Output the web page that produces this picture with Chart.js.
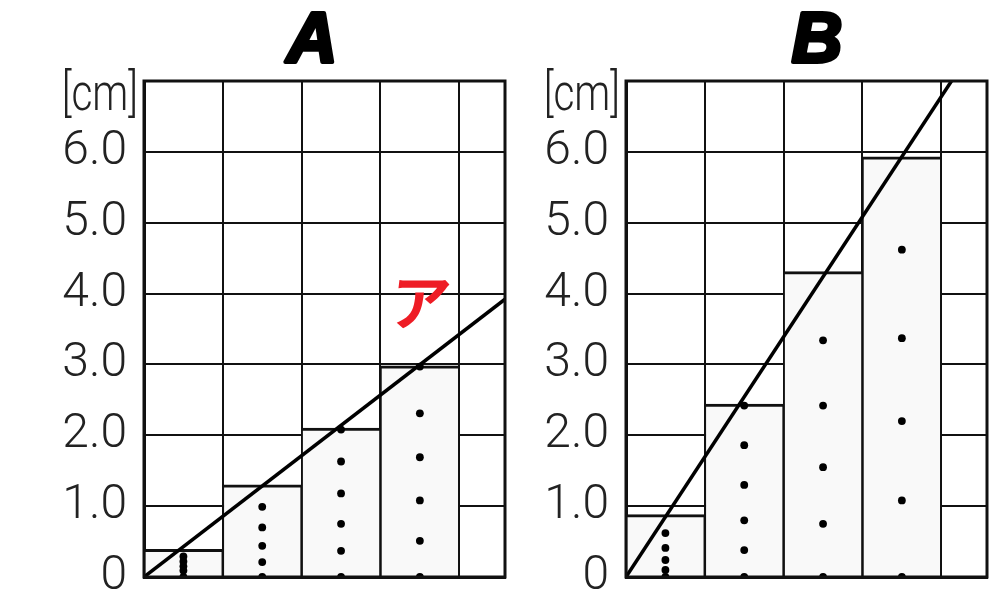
<!DOCTYPE html>
<html>
<head>
<meta charset="utf-8">
<script src="https://cdn.jsdelivr.net/npm/chart.js@4.4.1/dist/chart.umd.min.js"></script>
<style>
  body { margin: 0; background: #fff; width: 999px; height: 614px; overflow: hidden; position: relative; }
  canvas { position: absolute; top: 0; }
  #chartA { left: 0; }
  #chartB { left: 515px; }
</style>
</head>
<body>
<canvas id="chartA" width="515" height="614"></canvas>
<canvas id="chartB" width="484" height="614"></canvas>
<script>
// x = column centre (one grid column = 1 unit), y = length in cm
const columns = [0.5, 1.5, 2.5, 3.5];

const barsA = [0.39, 1.30, 2.10, 2.98];
const barsB = [0.88, 2.44, 4.31, 5.93];

// straight line through the origin
const lineAX = [0, 4.58];
const lineAY = [0, 3.92];
const lineBX = [0, 4.13];
const lineBY = [0, 7.0];

// dot marks inside each bar (one list per bar)
const dotsA = [
  [0, 0.09, 0.15, 0.22, 0.29],
  [0, 0.21, 0.44, 0.70, 0.99],
  [0, 0.37, 0.75, 1.18, 1.63, 2.08],
  [0, 0.51, 1.08, 1.69, 2.31, 2.97]
];
const dotsB = [
  [0, 0.10, 0.24, 0.41, 0.62],
  [0, 0.38, 0.80, 1.30, 1.86, 2.42],
  [0, 0.75, 1.55, 2.42, 3.34],
  [0, 1.08, 2.20, 3.37, 4.62]
];

const yMax = 7;
const xMax = 4.58;

// black frame around the plot area
const frame = {
  id: 'frame',
  afterDraw(chart) {
    const a = chart.chartArea, ctx = chart.ctx;
    ctx.save();
    ctx.strokeStyle = '#111';
    ctx.lineWidth = 3;
    ctx.strokeRect(a.left, a.top, a.right - a.left, a.bottom - a.top);
    ctx.restore();
  }
};

// panel letter, unit label and the red mark
const panelText = {
  id: 'panelText',
  afterDraw(chart, args, opts) {
    const ctx = chart.ctx, a = chart.chartArea;
    ctx.save();
    ctx.font = 'italic bold 70px "Liberation Sans"';
    ctx.textAlign = 'center';
    ctx.textBaseline = 'alphabetic';
    ctx.fillStyle = '#000';
    ctx.strokeStyle = '#000';
    ctx.lineWidth = 4;
    ctx.lineJoin = 'round';
    ctx.strokeText(opts.letter, opts.letterX, 62);
    ctx.fillText(opts.letter, opts.letterX, 62);
    ctx.restore();

    ctx.save();
    ctx.font = '300 52px Roboto';
    ctx.fillStyle = '#222';
    ctx.textAlign = 'right';
    ctx.translate(a.left - 6, 110);
    ctx.scale(0.78, 1);
    ctx.fillText('[cm]', 0, 0);
    ctx.restore();

    if (opts.mark) {
      ctx.save();
      ctx.font = 'bold 60px "Noto Sans CJK JP"';
      ctx.fillStyle = '#ee1c25';
      ctx.textAlign = 'center';
      ctx.textBaseline = 'middle';
      ctx.translate(opts.markX, opts.markY);
      ctx.transform(1, 0, -0.12, 1, 0, 0);
      ctx.fillText(opts.mark, 0, 0);
      ctx.restore();
    }
  }
};

function makeChart(id, bars, lineX, lineY, dots, axisWidth, padRight, text) {
  const dotPoints = [];
  dots.forEach((col, i) => col.forEach(v => dotPoints.push({ x: columns[i], y: v })));

  return new Chart(document.getElementById(id), {
    type: 'bar',
    data: {
      datasets: [
        {
          type: 'line',
          data: lineX.map((x, i) => ({ x: x, y: lineY[i] })),
          borderColor: '#000',
          borderWidth: 3.5,
          pointRadius: 0,
          order: 0
        },
        {
          type: 'scatter',
          data: dotPoints,
          pointRadius: 3.9,
          pointBackgroundColor: '#000',
          pointBorderWidth: 0,
          clip: 0,
          order: 1
        },
        {
          type: 'bar',
          data: columns.map((x, i) => ({ x: x, y: bars[i] })),
          backgroundColor: '#f9f9f9',
          borderColor: '#111',
          borderWidth: { top: 3, left: 1.6, right: 1.6, bottom: 0 },
          barPercentage: 1,
          categoryPercentage: 1,
          order: 2
        }
      ]
    },
    options: {
      responsive: false,
      animation: false,
      devicePixelRatio: 1,
      layout: { padding: { left: 0, right: padRight, top: 81, bottom: 37 } },
      plugins: {
        legend: { display: false },
        tooltip: { enabled: false },
        panelText: text
      },
      scales: {
        x: {
          type: 'linear',
          min: 0,
          max: xMax,
          offset: false,
          ticks: { display: false, stepSize: 1, includeBounds: false },
          grid: { color: '#111', lineWidth: 2, drawTicks: false, offset: false },
          border: { color: '#111', width: 3 }
        },
        y: {
          type: 'linear',
          min: 0,
          max: yMax,
          afterFit: s => { s.width = axisWidth; },
          ticks: {
            stepSize: 1,
            padding: 17,
            color: '#222',
            font: { family: 'Roboto', size: 48, weight: 300, lineHeight: 0.7 },
            callback: v => v === 0 ? '0' : (v === yMax ? '' : v.toFixed(1))
          },
          grid: { color: '#111', lineWidth: 2, drawTicks: false },
          border: { color: '#111', width: 3 }
        }
      }
    },
    plugins: [frame, panelText]
  });
}

makeChart('chartA', barsA, lineAX, lineAY, dotsA, 144, 10,
  { letter: 'A', letterX: 312, mark: 'ア', markX: 420, markY: 302 });
makeChart('chartB', barsB, lineBX, lineBY, dotsB, 111, 12,
  { letter: 'B', letterX: 302 });
</script>
</body>
</html>
